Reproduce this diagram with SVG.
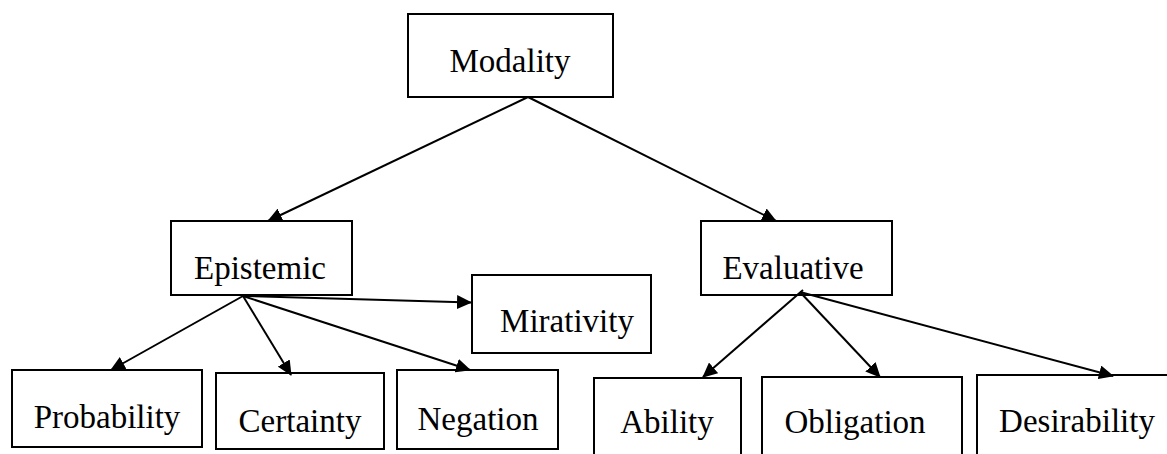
<svg xmlns="http://www.w3.org/2000/svg" width="1167" height="454" viewBox="0 0 1167 454">
<style>
.box{fill:#fff;stroke:#000;stroke-width:2}
.lbl{font-family:'Liberation Serif','Times New Roman',serif;font-size:33px;fill:#000;text-anchor:middle}
.edge{stroke:#000;stroke-width:2;fill:none;marker-end:url(#arr)}
</style>
<defs>
<marker id="arr" markerUnits="userSpaceOnUse" markerWidth="15" markerHeight="14" refX="14" refY="7" orient="auto">
<path d="M0,0 L15,7 L0,14 z" fill="#000"/>
</marker>
</defs>
<rect width="1167" height="454" fill="#fff"/>
<g id="modality"><rect class="box" x="408" y="14" width="205" height="83"/><text class="lbl" x="510" y="72">Modality</text></g>
<g id="epistemic"><rect class="box" x="171" y="221" width="181" height="74"/><text class="lbl" x="260" y="279">Epistemic</text></g>
<g id="evaluative"><rect class="box" x="701" y="221" width="191" height="74"/><text class="lbl" x="793" y="279">Evaluative</text></g>
<g id="mirativity"><rect class="box" x="472" y="275" width="179" height="78"/><text class="lbl" x="567" y="332">Mirativity</text></g>
<g id="probability"><rect class="box" x="12" y="370" width="190" height="77"/><text class="lbl" x="107" y="428">Probability</text></g>
<g id="certainty"><rect class="box" x="216" y="373" width="168" height="76"/><text class="lbl" x="300" y="432">Certainty</text></g>
<g id="negation"><rect class="box" x="397" y="370" width="161" height="79"/><text class="lbl" x="478" y="430">Negation</text></g>
<g id="ability"><rect class="box" x="594" y="378" width="147" height="80"/><text class="lbl" x="667" y="433">Ability</text></g>
<g id="obligation"><rect class="box" x="762" y="377" width="200" height="81"/><text class="lbl" x="855" y="433">Obligation</text></g>
<g id="desirability"><rect class="box" x="977" y="375" width="200" height="83"/><text class="lbl" x="1077" y="432">Desirability</text></g>
<g id="connectors">
<line class="edge" x1="528" y1="97" x2="268" y2="221"/>
<line class="edge" x1="528" y1="97" x2="776" y2="221"/>
<line class="edge" x1="243" y1="296" x2="111" y2="370"/>
<line class="edge" x1="243" y1="296" x2="291" y2="375"/>
<line class="edge" x1="243" y1="296" x2="470" y2="370"/>
<line class="edge" x1="243" y1="296" x2="471" y2="302.5"/>
<line class="edge" x1="803" y1="290" x2="703" y2="377"/>
<line class="edge" x1="800" y1="292" x2="880" y2="377"/>
<line class="edge" x1="800" y1="292" x2="1113" y2="376"/>
</g>
</svg>
